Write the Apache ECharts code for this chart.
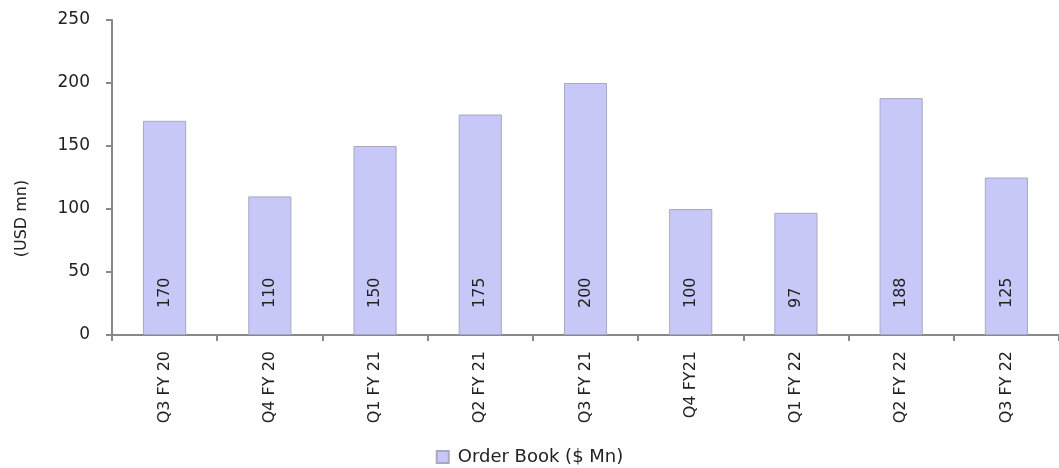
<!DOCTYPE html>
<html>
<head>
<meta charset="utf-8">
<script src="https://cdn.jsdelivr.net/npm/echarts@6/dist/echarts.min.js"></script>
<style>
  html, body { margin: 0; padding: 0; background: #fff; }
  #chart { width: 1059px; height: 468px; }
</style>
</head>
<body>
<div id="chart"></div>
<script>
// Quarterly order book, USD million
const quarters = ['Q3 FY 20', 'Q4 FY 20', 'Q1 FY 21', 'Q2 FY 21', 'Q3 FY 21', 'Q4 FY21', 'Q1 FY 22', 'Q2 FY 22', 'Q3 FY 22'];
const orderBook = [170, 110, 150, 175, 200, 100, 97, 188, 125];
const seriesName = 'Order Book ($ Mn)';
const axisTitle = '(USD mn)';

const fontFamily = '"DejaVu Sans", "Noto Sans", sans-serif';
const textColor = '#222';
const chart = echarts.init(document.getElementById('chart'));

chart.setOption({
  animation: false,
  textStyle: { fontFamily: fontFamily },
  grid: { left: 112, right: 0, top: 20, bottom: 133, containLabel: false },
  legend: {
    bottom: -3,
    left: 'center',
    itemWidth: 12,
    itemHeight: 12,
    itemGap: 8,
    textStyle: { fontSize: 18, color: textColor, fontFamily: fontFamily, padding: [0, 0, 0, 4] },
    data: [{ name: seriesName, icon: 'rect' }]
  },
  xAxis: {
    type: 'category',
    data: quarters,
    axisLine: { lineStyle: { color: '#888', width: 2 } },
    axisTick: { show: true, alignWithLabel: false, length: 6, lineStyle: { color: '#888', width: 2 } },
    axisLabel: { rotate: 90, fontSize: 16, color: textColor, margin: 16, fontFamily: fontFamily }
  },
  yAxis: {
    type: 'value',
    min: 0,
    max: 250,
    interval: 50,
    name: axisTitle,
    nameLocation: 'middle',
    nameRotate: 90,
    nameGap: 82,
    // shift the title down the axis a little
    nameTextStyle: { fontSize: 16, color: textColor, fontFamily: fontFamily, padding: [0, 82, 0, 0] },
    axisLine: { show: true, lineStyle: { color: '#888', width: 2 } },
    axisTick: { show: true, length: 6, lineStyle: { color: '#888', width: 2 } },
    axisLabel: { fontSize: 17, color: textColor, margin: 22, fontFamily: fontFamily },
    splitLine: { show: false }
  },
  series: [{
    name: seriesName,
    type: 'bar',
    data: orderBook,
    barWidth: '41%',
    itemStyle: { color: '#c8c8f8', borderColor: '#a8a8c0', borderWidth: 1 },
    label: {
      show: true,
      position: 'insideBottom',
      rotate: 90,
      align: 'left',
      verticalAlign: 'middle',
      distance: 27,
      fontSize: 16,
      color: textColor,
      fontFamily: fontFamily
    }
  }]
});
</script>
</body>
</html>
